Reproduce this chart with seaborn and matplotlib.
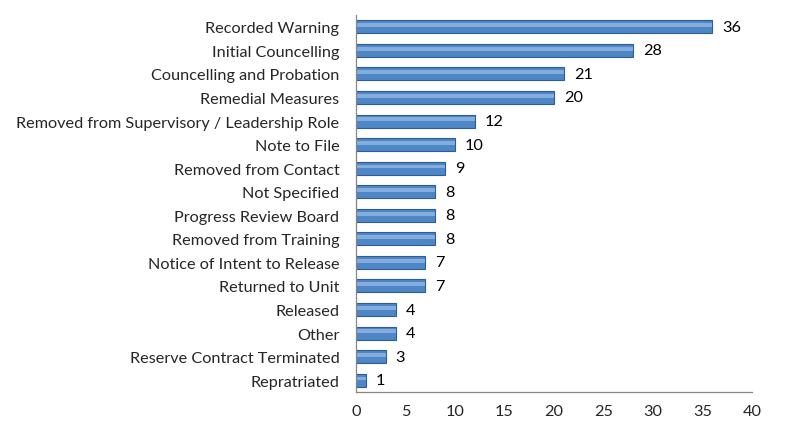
import matplotlib
matplotlib.use("Agg")
import matplotlib.pyplot as plt
import seaborn as sns
import pandas as pd
import numpy as np

categories = ["Recorded Warning", "Initial Councelling", "Councelling and Probation",
              "Remedial Measures", "Removed from Supervisory / Leadership Role",
              "Note to File", "Removed from Contact", "Not Specified",
              "Progress Review Board", "Removed from Training",
              "Notice of Intent to Release", "Returned to Unit", "Released",
              "Other", "Reserve Contract Terminated", "Repratriated"]
values = [36, 28, 21, 20, 12, 10, 9, 8, 8, 8, 7, 7, 4, 4, 3, 1]
x_ticks = [0, 5, 10, 15, 20, 25, 30, 35, 40]

sns.set_style("white")
plt.rcParams['font.family'] = ['Lato', 'DejaVu Sans']

df = pd.DataFrame({"category": categories, "value": values})

fig = plt.figure(figsize=(8.02, 4.31), dpi=100)
ax = fig.add_axes([356/802, 1-393/431, (752-356)/802, (393-16)/431])

sns.barplot(data=df, y="category", x="value", orient="h", ax=ax,
            color="#4f86c6", edgecolor="#2a5d9a", linewidth=0.8,
            width=0.55, saturation=1)

# highlight stripe for bevel look
for p in ax.patches:
    y0 = p.get_y()
    h = p.get_height()
    ax.barh(y0 + h*0.22, p.get_width(), height=h*0.3, left=p.get_x(),
            color="#a9c8ef", alpha=0.6, linewidth=0, align="edge")

for i, v in enumerate(values):
    ax.text(v + 1.0, i, str(v), va="center", ha="left", fontsize=11.7, color="black")

ax.set_xlim(0, 40)
ax.set_ylim(len(categories) - 0.5, -0.5)
ax.set_xticks(x_ticks)
ax.set_xticklabels([str(t) for t in x_ticks], fontsize=11.7)
ax.set_xlabel("")
ax.set_ylabel("")
ax.tick_params(axis="y", which="major", length=0, labelsize=11.7, pad=12)
ax.set_yticks(np.arange(-0.5, len(categories), 1), minor=True)
ax.tick_params(axis="y", which="minor", length=5, color="#868686", direction="out")
ax.tick_params(axis="x", which="major", length=5, color="#868686", direction="out", pad=4)
for s in ["top", "right"]:
    ax.spines[s].set_visible(False)
for s in ["left", "bottom"]:
    ax.spines[s].set_color("#868686")
    ax.spines[s].set_linewidth(0.9)

fig.savefig("out.png", dpi=100)
